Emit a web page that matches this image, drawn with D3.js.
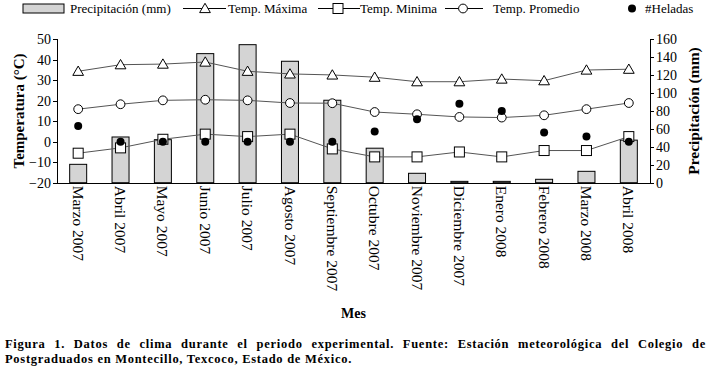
<!DOCTYPE html>
<html lang="es">
<head>
    <meta charset="UTF-8">
    <title>Datos de clima</title>
    <style>
        body { margin: 0; background: #fff; }
        text { font-family: "Liberation Serif", "Times New Roman", serif; fill: #000; }
        .axis path, .axis line { stroke: #000; stroke-width: 1; shape-rendering: crispEdges; }
        .axis text { font-size: 14px; }
        .cond { font-family: "DejaVu Serif Condensed", "DejaVu Serif", serif; font-stretch: condensed; }
    </style>
</head>
<body>
<svg height="376" width="710"></svg>

<script src="https://d3js.org/d3.v7.min.js"></script>
<script>

    var months = ['Marzo 2007', 'Abril 2007', 'Mayo 2007', 'Junio 2007', 'Julio 2007', 'Agosto 2007',
        'Septiembre 2007', 'Octubre 2007', 'Noviembre 2007', 'Diciembre 2007', 'Enero 2008',
        'Febrero 2008', 'Marzo 2008', 'Abril 2008'];
    var precip = [20.5, 51, 48, 144, 154, 135.5, 92, 38.5, 10.5, 1.5, 1.5, 3.8, 12.7, 47.5];
    var tMax = [34.4, 37.6, 37.9, 38.9, 34.4, 33.1, 32.6, 31.5, 29.3, 29.3, 30.6, 29.8, 35, 35.4];
    var tMin = [-5.6, -3.0, 1.2, 3.7, 2.5, 3.7, -3.5, -7.4, -7.4, -5.0, -7.4, -4.3, -4.3, 2.5];
    var tProm = [15.9, 18.3, 20.2, 20.5, 20.2, 18.9, 18.8, 14.5, 13.4, 12.1, 11.8, 12.9, 15.9, 18.9];
    var heladas = [7.7, 0, 0, 0, 0, 0, 0, 5, 11, 18.5, 15, 4.5, 2.5, 0];

    var tempTicks = [-20, -10, 0, 10, 20, 30, 40, 50];
    var precipTicks = [0, 20, 40, 60, 80, 100, 120, 140, 160];

    var caption1 = 'Figura 1. Datos de clima durante el periodo experimental. Fuente: Estación meteorológica del Colegio de';
    var caption2 = 'Postgraduados en Montecillo, Texcoco, Estado de México.';

    var plot = {left: 57, right: 650, top: 39.3, bottom: 182.7};

    var svg = d3.select("svg");

    var x = d3.scaleBand().domain(months).range([plot.left, plot.right]);
    var yTemp = d3.scaleLinear().domain([-20, 50]).range([plot.bottom, plot.top]);
    var yPrecip = d3.scaleLinear().domain([0, 160]).range([plot.bottom, plot.top]);
    var cx = function(i) { return x(months[i]) + x.bandwidth() / 2; };
    var barWidth = 17;

    // bars (precipitation, right axis)
    svg.append("g").selectAll("rect")
        .data(precip)
        .enter()
        .append("rect")
        .attr("x", function(d, i) { return cx(i) - barWidth / 2; })
        .attr("y", function(d) { return yPrecip(d); })
        .attr("width", barWidth)
        .attr("height", function(d) { return yPrecip(0) - yPrecip(d); })
        .attr("fill", "#d4d4d4")
        .attr("stroke", "#000")
        .attr("stroke-width", 1);

    // axes
    svg.append("g").attr("class", "axis")
        .attr("transform", "translate(" + plot.left + ",0)")
        .call(d3.axisLeft(yTemp).tickValues(tempTicks).tickSize(4).tickPadding(2).tickFormat(d3.format("d")));
    svg.append("g").attr("class", "axis")
        .attr("transform", "translate(" + plot.right + ",0)")
        .call(d3.axisRight(yPrecip).tickValues(precipTicks).tickSize(4).tickPadding(2));
    svg.append("g").attr("class", "axis")
        .attr("transform", "translate(0," + plot.bottom + ")")
        .call(d3.axisBottom(x).tickSize(0).tickSizeOuter(0).tickPadding(0))
        .selectAll("text")
        .attr("transform", "rotate(90)")
        .attr("x", 3)
        .attr("y", 0)
        .attr("dy", "0.35em")
        .attr("text-anchor", "start")
        .style("font-size", "15.5px");
    svg.selectAll(".axis .domain").attr("fill", "none");

    // lines
    var line = d3.line()
        .x(function(d, i) { return cx(i); })
        .y(function(d) { return yTemp(d); });
    [tMax, tProm, tMin].forEach(function(s) {
        svg.append("path")
            .datum(s)
            .attr("d", line)
            .attr("fill", "none")
            .attr("stroke", "#555")
            .attr("stroke-width", 1);
    });

    var tri = d3.symbol().type(d3.symbolTriangle).size(50);

    svg.append("g").selectAll("path")
        .data(tMax).enter().append("path")
        .attr("d", tri)
        .attr("transform", function(d, i) { return "translate(" + cx(i) + "," + (yTemp(d) + 1) + ")"; })
        .attr("fill", "#fff").attr("stroke", "#000");

    svg.append("g").selectAll("circle")
        .data(tProm).enter().append("circle")
        .attr("cx", function(d, i) { return cx(i); })
        .attr("cy", function(d) { return yTemp(d); })
        .attr("r", 4.4)
        .attr("fill", "#fff").attr("stroke", "#000");

    svg.append("g").selectAll("rect")
        .data(tMin).enter().append("rect")
        .attr("x", function(d, i) { return cx(i) - 5; })
        .attr("y", function(d) { return yTemp(d) - 5; })
        .attr("width", 10).attr("height", 10)
        .attr("fill", "#fff").attr("stroke", "#000");

    svg.append("g").selectAll("circle")
        .data(heladas).enter().append("circle")
        .attr("cx", function(d, i) { return cx(i); })
        .attr("cy", function(d) { return yTemp(d); })
        .attr("r", 4)
        .attr("fill", "#000");

    // axis titles
    svg.append("text")
        .attr("transform", "translate(24," + ((plot.top + plot.bottom) / 2) + ") rotate(-90)")
        .attr("text-anchor", "middle")
        .style("font-size", "15px").style("font-weight", "bold")
        .text("Temperatura (°C)");
    svg.append("text")
        .attr("transform", "translate(699," + ((plot.top + plot.bottom) / 2) + ") rotate(-90)")
        .attr("text-anchor", "middle")
        .style("font-size", "15.5px").style("font-weight", "bold")
        .text("Precipitación (mm)");
    svg.append("text")
        .attr("x", (plot.left + plot.right) / 2)
        .attr("y", 318)
        .attr("text-anchor", "middle")
        .style("font-size", "14px").style("font-weight", "bold")
        .text("Mes");

    // legend
    var leg = svg.append("g").style("font-size", "13px");
    var ly = 8.5;
    leg.append("rect").attr("x", 23).attr("y", 4).attr("width", 41).attr("height", 9)
        .attr("fill", "#d4d4d4").attr("stroke", "#000");
    leg.append("text").attr("x", 70).attr("y", 13).text("Precipitación (mm)");

    leg.append("line").attr("x1", 183).attr("x2", 226).attr("y1", ly).attr("y2", ly).attr("stroke", "#000");
    leg.append("path").attr("d", tri).attr("transform", "translate(205," + (ly + 1) + ")")
        .attr("fill", "#fff").attr("stroke", "#000");
    leg.append("text").attr("x", 228).attr("y", 13).text("Temp. Máxima");

    leg.append("line").attr("x1", 318).attr("x2", 360).attr("y1", ly).attr("y2", ly).attr("stroke", "#000");
    leg.append("rect").attr("x", 333).attr("y", ly - 5).attr("width", 10).attr("height", 10)
        .attr("fill", "#fff").attr("stroke", "#000");
    leg.append("text").attr("x", 360).attr("y", 13).text("Temp. Minima");

    leg.append("line").attr("x1", 445).attr("x2", 483).attr("y1", ly).attr("y2", ly).attr("stroke", "#000");
    leg.append("circle").attr("cx", 463).attr("cy", ly).attr("r", 4.4)
        .attr("fill", "#fff").attr("stroke", "#000");
    leg.append("text").attr("x", 493).attr("y", 13).text("Temp. Promedio");

    leg.append("circle").attr("cx", 632).attr("cy", ly).attr("r", 4).attr("fill", "#000");
    leg.append("text").attr("x", 645).attr("y", 13).text("#Heladas");

    // caption, first line justified
    var cap = svg.append("g").attr("class", "cond").style("font-size", "12.5px").style("font-weight", "bold");
    var c2 = cap.append("text").attr("x", 5).attr("y", 363).text(caption2);
    var ls = (347 - c2.node().getComputedTextLength()) / caption2.length;
    c2.style("letter-spacing", ls + "px");
    var c1 = cap.append("text").attr("x", 5).attr("y", 348).style("letter-spacing", ls + "px").text(caption1);
    var gaps = caption1.split(" ").length - 1;
    var ws = (701 - c1.node().getComputedTextLength()) / gaps;
    c1.style("word-spacing", ws + "px");

</script>
</body>
</html>
